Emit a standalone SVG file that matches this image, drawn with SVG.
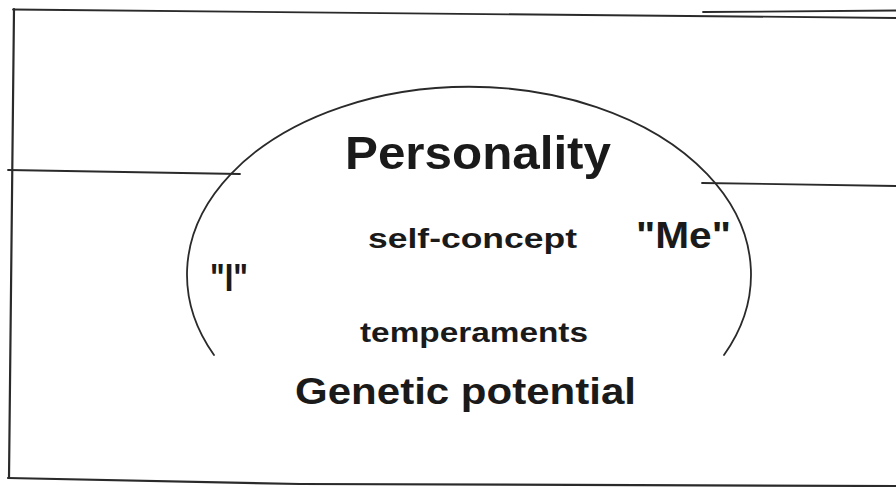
<svg xmlns="http://www.w3.org/2000/svg" width="896" height="487" viewBox="0 0 896 487">
  <style>
    .ln { fill: none; stroke: #2a2a2a; stroke-width: 1.8; stroke-linecap: round; }
    .t { font-family: "Liberation Sans", Arial, sans-serif; font-weight: bold; fill: #1a1a1a; text-anchor: start; }
  </style>
  <rect width="896" height="487" fill="#ffffff"/>
  <g id="frame">
    <path class="ln" d="M13 9.5 L896 18"/>
    <path class="ln" d="M703 12 L896 10.5"/>
    <path class="ln" d="M14 9 L9 478" style="stroke-width:2.2"/>
    <path class="ln" d="M8 478 L300 484 L896 486" style="stroke-width:2.2"/>
  </g>
  <g id="connectors">
    <path class="ln" d="M8 170 L240 174"/>
    <path class="ln" d="M702 183 L896 186"/>
  </g>
  <g id="personality-arc">
    <path class="ln" d="M214 355 A282 188 0 1 1 724 355"/>
  </g>
  <g id="personality">
    <text class="t" x="345" y="169" font-size="47" textLength="266" lengthAdjust="spacingAndGlyphs">Personality</text>
  </g>
  <g id="self-concept">
    <text class="t" x="368" y="248" font-size="28" textLength="209" lengthAdjust="spacingAndGlyphs">self-concept</text>
  </g>
  <g id="me">
    <text class="t" x="636" y="248" font-size="36" textLength="95" lengthAdjust="spacingAndGlyphs">"Me"</text>
  </g>
  <g id="i">
    <text class="t" x="210" y="291" font-size="38" textLength="38" lengthAdjust="spacingAndGlyphs">"I"</text>
  </g>
  <g id="temperaments">
    <text class="t" x="360" y="342" font-size="28" textLength="228" lengthAdjust="spacingAndGlyphs">temperaments</text>
  </g>
  <g id="genetic-potential">
    <text class="t" x="295" y="404" font-size="37" textLength="341" lengthAdjust="spacingAndGlyphs">Genetic potential</text>
  </g>
</svg>
